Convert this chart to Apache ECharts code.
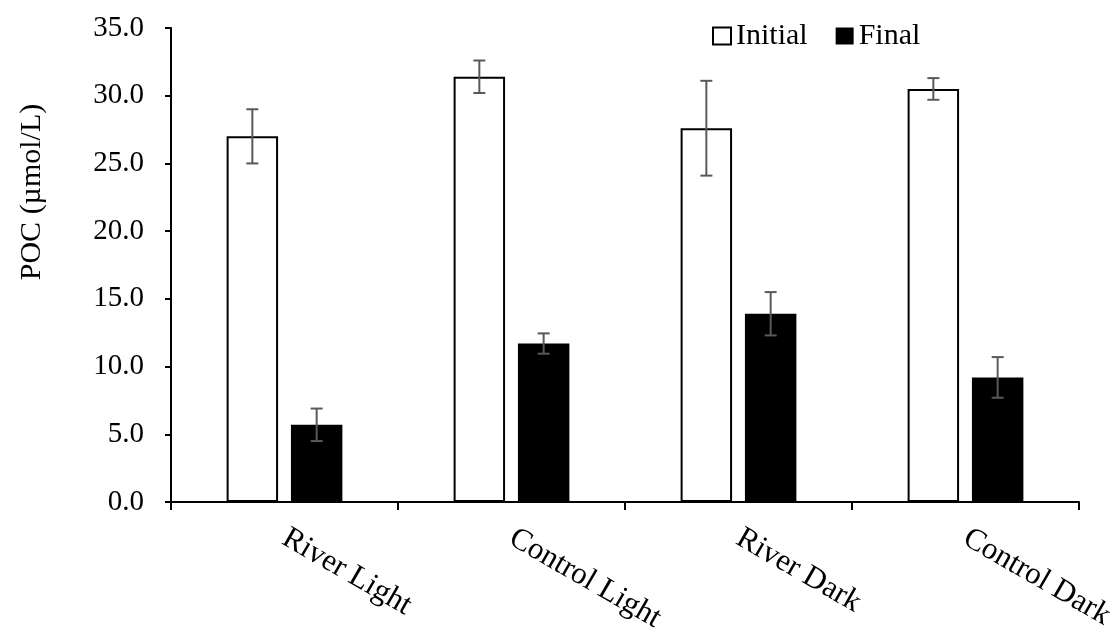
<!DOCTYPE html>
<html>
<head>
<meta charset="utf-8">
<script src="https://cdn.jsdelivr.net/npm/echarts@6/dist/echarts.min.js"></script>
<style>html,body{margin:0;padding:0;background:#fff;}#c{width:1120px;height:633px;}</style>
</head>
<body>
<div id="c"></div>
<script>
var categories = ['River Light', 'Control Light', 'River Dark', 'Control Dark'];
var initialValues = [27.0, 31.4, 27.6, 30.5];
var initialErrors = [2.0, 1.2, 3.5, 0.8];
var finalValues = [5.7, 11.7, 13.9, 9.2];
var finalErrors = [1.2, 0.75, 1.6, 1.5];
var seriesNames = ['Initial', 'Final'];
var yTicks = {min: 0, max: 35, interval: 5};

var CAT_GAP = 0.49, BAR_GAP = 0.25;
var FONT = '"Liberation Serif", "DejaVu Serif", serif';

function errData(vals, errs) {
  return vals.map(function (v, i) { return [i, v - errs[i], v + errs[i]]; });
}
function makeErr(seriesIndex, vals, errs) {
  return {
    type: 'custom',
    name: seriesNames[seriesIndex] + ' err',
    z: 10,
    silent: true,
    data: errData(vals, errs),
    renderItem: function (params, api) {
      var idx = api.value(0);
      var lo = api.coord([idx, api.value(1)]);
      var hi = api.coord([idx, api.value(2)]);
      var band = api.size([1, 0])[0];
      var group = band * (1 - CAT_GAP);
      var barW = group / (2 + BAR_GAP);
      var x = lo[0] - group / 2 + barW / 2 + seriesIndex * barW * (1 + BAR_GAP);
      var cap = 6;
      var st = {stroke: '#595959', lineWidth: 2, fill: null};
      return {
        type: 'group',
        children: [
          {type: 'line', shape: {x1: x, y1: lo[1], x2: x, y2: hi[1]}, style: st},
          {type: 'line', shape: {x1: x - cap, y1: lo[1], x2: x + cap, y2: lo[1]}, style: st},
          {type: 'line', shape: {x1: x - cap, y1: hi[1], x2: x + cap, y2: hi[1]}, style: st}
        ]
      };
    }
  };
}

var chart = echarts.init(document.getElementById('c'), null, {renderer: 'canvas'});
chart.setOption({
  animation: false,
  backgroundColor: '#fff',
  textStyle: {fontFamily: FONT},
  grid: {left: 171, right: 41, top: 28, bottom: 131, containLabel: false, outerBoundsMode: 'none'},
  legend: {
    data: seriesNames,
    left: 707, top: 16,
    itemWidth: 18, itemHeight: 17, itemGap: 28,
    icon: 'rect',
    textStyle: {fontFamily: FONT, fontSize: 30, color: '#000'}
  },
  xAxis: {
    type: 'category',
    data: categories,
    axisLine: {lineStyle: {color: '#000', width: 2}},
    axisTick: {show: true, inside: false, length: 8, lineStyle: {color: '#000', width: 2}},
    axisLabel: {rotate: -30, margin: 34, fontFamily: FONT, fontSize: 31, color: '#000'}
  },
  yAxis: {
    type: 'value',
    min: yTicks.min, max: yTicks.max, interval: yTicks.interval,
    name: 'POC (µmol/L)',
    nameLocation: 'middle',
    nameGap: 124,
    nameTextStyle: {fontFamily: FONT, fontSize: 30, color: '#000', padding: [0, 0, 0, 146]},
    splitLine: {show: false},
    axisLine: {show: true, lineStyle: {color: '#000', width: 2}},
    axisTick: {show: true, length: 6, lineStyle: {color: '#000', width: 2}},
    axisLabel: {margin: 27, fontFamily: FONT, fontSize: 29, color: '#000',
      formatter: function (v) { return v.toFixed(1); }}
  },
  series: [
    {
      name: 'Initial', type: 'bar', data: initialValues,
      barCategoryGap: (CAT_GAP * 100) + '%', barGap: (BAR_GAP * 100) + '%',
      itemStyle: {color: '#fff', borderColor: '#000', borderWidth: 2}
    },
    {
      name: 'Final', type: 'bar', data: finalValues,
      barCategoryGap: (CAT_GAP * 100) + '%', barGap: (BAR_GAP * 100) + '%',
      itemStyle: {color: '#000', borderColor: '#000', borderWidth: 0}
    },
    makeErr(0, initialValues, initialErrors),
    makeErr(1, finalValues, finalErrors)
  ]
});
</script>
</body>
</html>
